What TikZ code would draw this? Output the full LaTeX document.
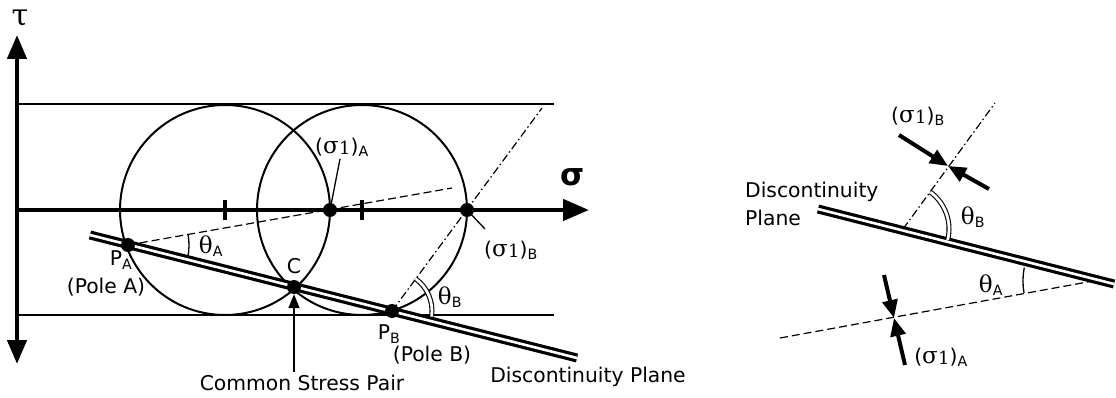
\documentclass[tikz,border=0pt]{standalone}
\usepackage{fontspec}
\setmainfont{DejaVu Sans}
\newfontfamily\grk{DejaVu Serif}
\usetikzlibrary{arrows.meta}
\newcommand{\gs}{{\fontsize{23}{24}\selectfont\grk σ}}
\newcommand{\gt}{{\fontsize{23}{24}\selectfont\grk θ}}
\newcommand{\sone}[1]{(\gs\kern0.3pt\raisebox{-1.5pt}{\fontsize{18}{20}\selectfont\grk 1})\textsubscript{#1}}
\begin{document}
\begin{tikzpicture}[x=1pt,y=-1pt,
  lbl/.style={font=\fontsize{20.3}{28}\selectfont, inner sep=0pt},
  hline/.style={line width=1.5pt},
  circ/.style={line width=2pt},
  axisline/.style={line width=4.5pt},
  plane/.style={double, double distance=2.6pt, line width=3.2pt},
  dot/.style={circle, fill, inner sep=0pt, minimum size=14pt},
  dashdot/.style={line width=1.2pt, dash pattern=on 8pt off 3pt on 1.5pt off 3pt},
  dsh/.style={line width=1.2pt, dash pattern=on 8pt off 4pt},
  arr/.style={line width=4pt, -{Triangle[length=18pt,width=15pt]}},
  leader/.style={line width=1.3pt},
  dblarc/.style={line width=1.1pt, double, double distance=2.8pt},
  sarc/.style={line width=1.3pt}
]
\useasboundingbox (0,0) rectangle (1116,398);

% ---------- left diagram ----------
\coordinate (tauTop) at (17,35);
\coordinate (tauBot) at (17,364);
\coordinate (sigL) at (17,210);
\coordinate (sigR) at (589,210);
\coordinate (topL) at (17,104);
\coordinate (topR) at (554,104);
\coordinate (botL) at (17,315);
\coordinate (botR) at (554,315);
\coordinate (cA) at (225,210);
\coordinate (cB) at (362,210);

\draw[hline] (topL) -- (topR);
\draw[hline] (botL) -- (botR);
\draw[circ] (cA) circle[radius=105];
\draw[circ] (cB) circle[radius=105];

\draw[axisline, {Triangle[length=24pt,width=19pt]}-{Triangle[length=24pt,width=19pt]}] (tauTop) -- (tauBot);
\draw[axisline, -{Triangle[length=26pt,width=21pt]}] (sigL) -- (sigR);
\draw[axisline] (225,200) -- (225,220);
\draw[axisline] (362,200) -- (362,220);

\node[lbl, font=\fontsize{30}{30}\selectfont\grk] (tau) at (20,18) {τ};
\node[lbl, font=\fontsize{31}{30}\selectfont\bfseries] (sig) at (573,177) {σ};

% plane
\coordinate (plL) at (90,235);
\coordinate (plR) at (577,358);
\draw[plane] (plL) -- (plR);

% dots
\node[dot] (PA) at (128,245) {};
\node[dot] (C) at (294,287) {};
\node[dot] (PB) at (392,311) {};
\node[dot] (SA) at (330,210) {};
\node[dot] (SB) at (467,210) {};

% dashed and dash-dot lines
\coordinate (dEnd) at (452,188);
\coordinate (ddEnd) at (542,108);
\draw[dsh] (PA.center) -- (dEnd);
\draw[dashdot] (PB.center) -- (ddEnd);

% angle arcs
\draw[sarc] (PA.center) ++(-10:61) arc[start angle=-10, end angle=12, radius=61];
\draw[dblarc] (PB.center) ++(-54:40) arc[start angle=-54, end angle=8, radius=40];

% labels
\node[lbl] (lSA) at (342,147) {\sone{A}};
\coordinate (lSAe) at (340,159);
\draw[leader] (lSAe) -- (SA.center);
\node[lbl] (lSB) at (511,250) {\sone{B}};
\coordinate (lSBe) at (485,229);
\draw[leader] (SB.center) -- (lSBe);
\node[lbl] (lPA) at (121,260) {P\textsubscript{A}};
\node[lbl] (lPoleA) at (106,287) {(Pole A)};
\node[lbl] (lC) at (294,266) {C};
\node[lbl] (lthA) at (211,246) {\gt\textsubscript{A}};
\node[lbl] (lPB) at (389,334) {P\textsubscript{B}};
\node[lbl] (lPoleB) at (432,355) {(Pole B)};
\node[lbl] (lthB) at (450,297) {\gt\textsubscript{B}};
\node[lbl] (lCSP) at (302,383) {Common Stress Pair};
\coordinate (cspTail) at (294,372);
\draw[line width=1.5pt, -{Triangle[length=14pt,width=11pt]}] (cspTail) -- (C.south);
\node[lbl] (lDP) at (588,377) {Discontinuity Plane};

% ---------- right diagram ----------
\coordinate (rplL) at (818,209);
\coordinate (rplR) at (1114,284);
\draw[plane] (rplL) -- (rplR);
\node[lbl, anchor=west, align=left] (rDP) at (745,204) {Discontinuity\\Plane};

\coordinate (VB) at (903,229);
\coordinate (ddTop) at (995,103);
\draw[dashdot] (VB) -- (ddTop);
\coordinate (XB) at (948,166);
\coordinate (XB1) at (899,135);
\coordinate (XB2) at (989,189);
\draw[arr] (XB1) -- (XB);
\draw[arr] (XB2) -- (XB);
\node[lbl] (rlSB) at (918,116) {\sone{B}};
\draw[dblarc] (VB) ++(-53:46) arc[start angle=-53, end angle=14, radius=46];
\node[lbl] (rthB) at (973,217) {\gt\textsubscript{B}};

\coordinate (VA) at (1093,281);
\coordinate (dL) at (780,338);
\draw[dsh] (dL) -- (VA);
\draw[sarc] (VA) ++(170:70) arc[start angle=170, end angle=191, radius=70];
\node[lbl] (rthA) at (991,285) {\gt\textsubscript{A}};
\coordinate (XA) at (894,318);
\coordinate (XA1) at (884,275);
\coordinate (XA2) at (905,365);
\draw[arr] (XA1) -- (XA);
\draw[arr] (XA2) -- (XA);
\node[lbl] (rlSA) at (941,357) {\sone{A}};
\end{tikzpicture}
\end{document}
